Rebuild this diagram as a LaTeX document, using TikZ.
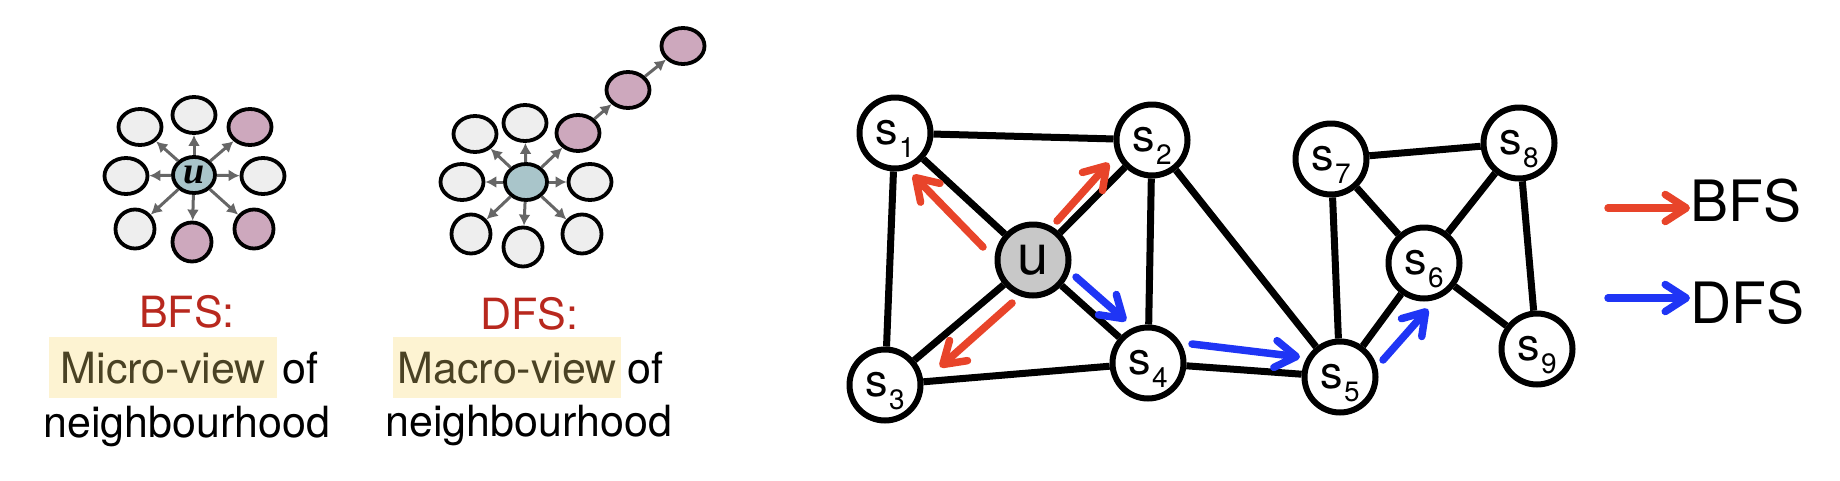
\documentclass[tikz,border=0pt]{standalone}
\usepackage{fontspec}
\setmainfont{TeX Gyre Heros}
\newfontfamily\uitfont{Liberation Serif}
\usetikzlibrary{arrows.meta,shapes.geometric}
\definecolor{bfsred}{HTML}{E8442A}
\definecolor{dfsblue}{HTML}{1F35F5}
\definecolor{capred}{HTML}{B8281E}
\definecolor{hlfill}{HTML}{FDF3D2}
\definecolor{hltext}{HTML}{4A4224}
\definecolor{pinkc}{HTML}{CDA8BD}
\definecolor{nbgray}{HTML}{EEEEEE}
\definecolor{ucol}{HTML}{A9C5CA}
\definecolor{ugray}{HTML}{C8C8C8}
\definecolor{arrgray}{HTML}{666666}
\newcommand\snode[1]{s\kern1.5pt\raisebox{-13pt}{\fontsize{28}{28}\selectfont #1}}
\begin{document}
\begin{tikzpicture}[x=1pt,y=-1pt,
  ic/.style={ellipse, draw=black, line width=3.8pt, fill=nbgray, minimum width=43pt, minimum height=36pt, inner sep=0pt},
  icb/.style={ic, minimum width=39pt, minimum height=39pt},
  icp/.style={fill=pinkc},
  icc/.style={ic, fill=ucol, minimum width=42pt, minimum height=36pt},
  iarr/.style={draw=arrgray, line width=3pt, -{Latex[length=11pt,width=12pt]}},
  gn/.style={circle, draw=black, line width=6pt, fill=white, minimum size=71pt, inner sep=0pt,
    font=\fontsize{45}{45}\selectfont, text height=23pt, text depth=0pt},
  un/.style={gn, fill=ugray, font=\fontsize{56}{56}\selectfont, text height=29pt},
  gedge/.style={line width=7pt},
  bfsarr/.style={draw=bfsred, line width=7.5pt, line cap=round, -{Straight Barb[length=21pt,width=27pt,round]}},
  dfsarr/.style={bfsarr, draw=dfsblue},
  captxt/.style={anchor=base, inner sep=0pt, font=\fontsize{43}{50}\selectfont},
  captred/.style={captxt, text=capred},
  hl/.style={captxt, fill=hlfill, text=hltext, minimum width=228pt, inner xsep=0pt, inner ysep=0pt,
    text height=46pt, text depth=15pt},
  leg/.style={anchor=base west, inner sep=0pt, font=\fontsize{57}{60}\selectfont}
]
\useasboundingbox (0,0) rectangle (1840,480);

% ---------- BFS icon ----------
\node[icc] (bu) at (194,175) {\uitfont\itshape\bfseries\fontsize{38}{38}\selectfont u};
\node[ic] (btl) at (140,127) {};
\node[ic] (bt) at (194,115) {};
\node[ic,icp] (btr) at (250,127) {};
\node[ic] (bl) at (126,176) {};
\node[ic] (br) at (263,176) {};
\node[icb] (bbl) at (135,229) {};
\node[icb,icp] (bb) at (192,242) {};
\node[icb,icp] (bbr) at (254,229) {};
\foreach \n in {btl,bt,btr,bl,br,bbl,bb,bbr} \draw[iarr] (bu) -- (\n);

% ---------- DFS icon ----------
\node[icc] (du) at (526,182) {};
\node[ic] (dtl) at (475,134) {};
\node[ic] (dt) at (525,123) {};
\node[ic,icp] (dp1) at (578,133) {};
\node[ic] (dl) at (462,182) {};
\node[ic] (dr) at (590,182) {};
\node[icb] (dbl) at (471,234) {};
\node[icb] (db) at (523,247) {};
\node[icb] (dbr) at (582,234) {};
\node[ic,icp] (dp2) at (628,90) {};
\node[ic,icp] (dp3) at (683,46) {};
\foreach \n in {dtl,dt,dp1,dl,dr,dbl,db,dbr} \draw[iarr] (du) -- (\n);
\draw[iarr] (dp1) -- (dp2);
\draw[iarr] (dp2) -- (dp3);

% ---------- captions ----------
\node[captred] (bfst) at (187,327) {BFS:};
\node[hl, anchor=base west] (bfsm) at (49,383) {Micro-view};
\node[captxt, anchor=base west] (bfso) at ([xshift=5pt]bfsm.base east) {of};
\node[captxt] (bfsn) at (187,437) {neighbourhood};

\node[captred] (dfst) at (529,329) {DFS:};
\node[hl, anchor=base west] (dfsm) at (393,383) {Macro-view};
\node[captxt, anchor=base west] (dfso) at ([xshift=6pt]dfsm.base east) {of};
\node[captxt] (dfsn) at (529,436) {neighbourhood};

% ---------- graph ----------
\node[gn] (s1) at (895,133) {\snode{1}};
\node[gn] (s2) at (1152,140) {\snode{2}};
\node[un] (u) at (1033,260) {u};
\node[gn] (s3) at (885,385) {\snode{3}};
\node[gn] (s4) at (1148,363) {\snode{4}};
\node[gn] (s5) at (1340,377) {\snode{5}};
\node[gn] (s6) at (1424,263) {\snode{6}};
\node[gn] (s7) at (1331,159) {\snode{7}};
\node[gn] (s8) at (1519,143) {\snode{8}};
\node[gn] (s9) at (1537,349) {\snode{9}};
\foreach \a/\b in {s1/s2,s1/s3,s1/u,u/s2,u/s3,u/s4,s2/s4,s2/s5,s3/s4,s4/s5,s5/s7,s5/s6,s6/s7,s7/s8,s6/s8,s8/s9,s6/s9}
  \draw[gedge] (\a) -- (\b);

% traversal arrows
\coordinate (r1a) at (983,247);  \coordinate (r1b) at (913,175);
\coordinate (r2a) at (1057,221); \coordinate (r2b) at (1109,163);
\coordinate (r3a) at (1012,303); \coordinate (r3b) at (940,367);
\coordinate (b1a) at (1076,277); \coordinate (b1b) at (1126,321);
\coordinate (b2a) at (1192,344); \coordinate (b2b) at (1300,357);
\coordinate (b3a) at (1383,360); \coordinate (b3b) at (1428,309);
\draw[bfsarr] (r1a) -- (r1b);
\draw[bfsarr] (r2a) -- (r2b);
\draw[bfsarr] (r3a) -- (r3b);
\draw[dfsarr] (b1a) -- (b1b);
\draw[dfsarr] (b2a) -- (b2b);
\draw[dfsarr] (b3a) -- (b3b);

% legend
\node[leg] (lb) at (1690,221) {BFS};
\node[leg] (ld) at (1690,323) {DFS};
\coordinate (lra) at (1608,208);
\coordinate (lba) at (1608,298);
\draw[bfsarr] (lra) -- (lb.west |- lra);
\draw[dfsarr] (lba) -- (ld.west |- lba);
\end{tikzpicture}
\end{document}
